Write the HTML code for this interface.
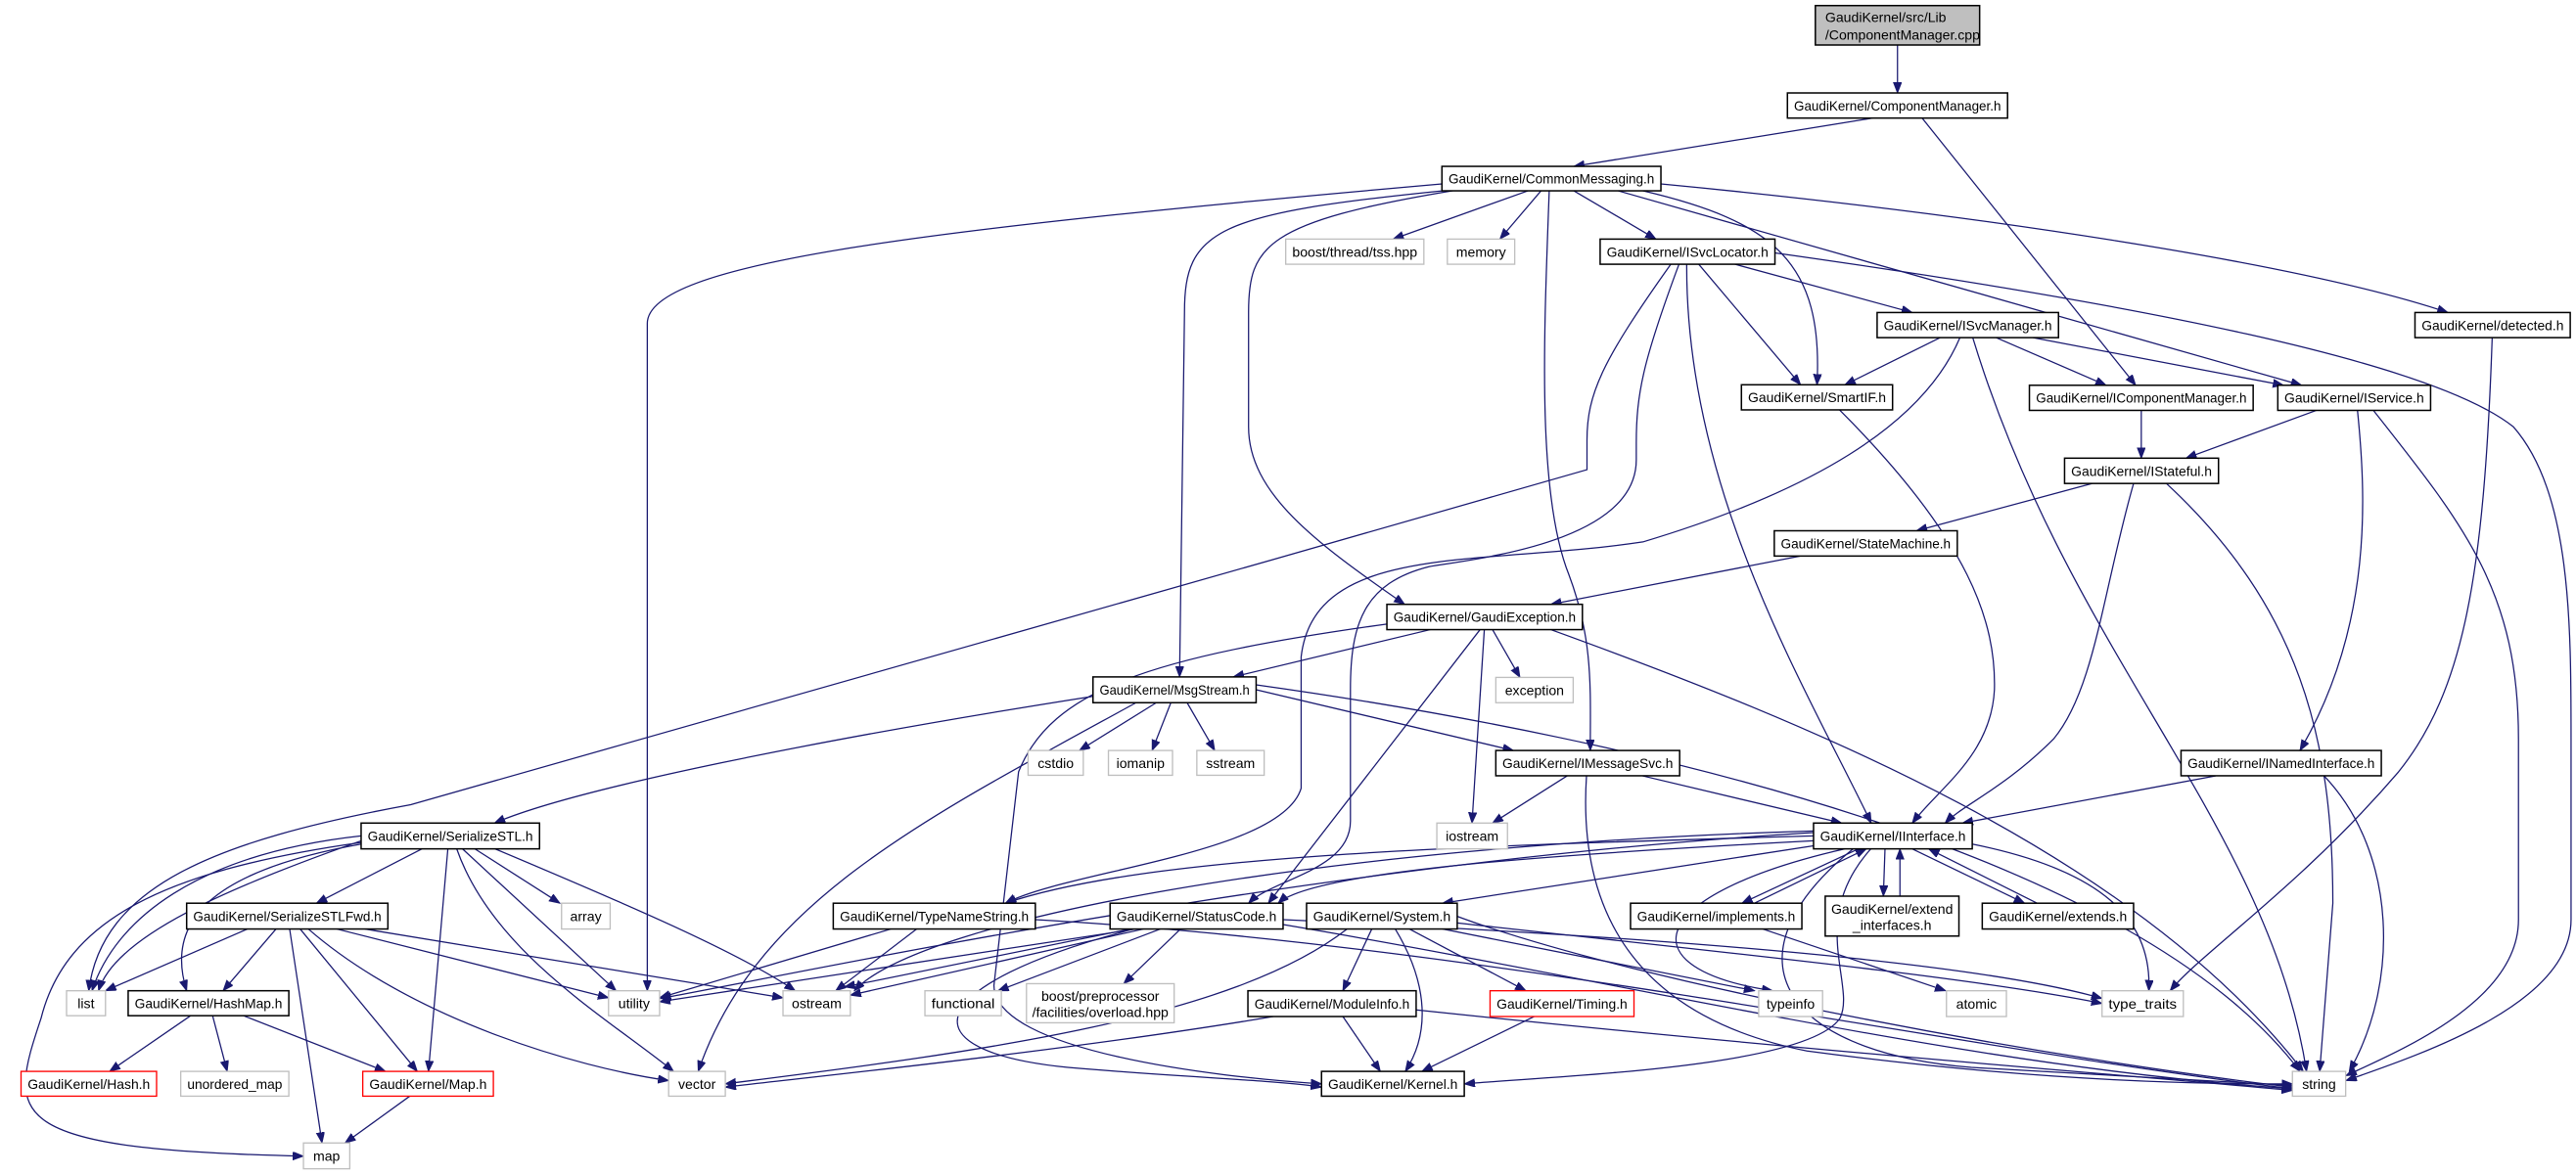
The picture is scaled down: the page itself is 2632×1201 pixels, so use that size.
<!DOCTYPE html>
<html><head><meta charset="utf-8">
<style>
html,body{margin:0;padding:0;background:#fff;}
svg{display:block;}
text{font-family:"Liberation Sans",sans-serif;font-size:8.4px;fill:#000;}
</style></head>
<body>
<svg id="g" width="2632" height="1201" viewBox="0 0 1568 715.5" xmlns="http://www.w3.org/2000/svg">
<defs>
<marker id="ah" markerUnits="userSpaceOnUse" markerWidth="8" markerHeight="6" refX="6.5" refY="2.5" orient="auto">
<path d="M0,0 L6.5,2.5 L0,5 z" fill="#191970" stroke="#191970" stroke-width="0.5"/>
</marker>
</defs>
<g id="edges" fill="none" stroke="#191970" stroke-width="0.75"></g>
<g id="nodes">
<rect x="1105" y="3.4" width="100" height="24" fill="#bfbfbf" stroke="#000" stroke-width="0.9"/>
<text x="1111" y="13.5">GaudiKernel/src/Lib</text>
<text x="1111" y="24">/ComponentManager.cpp</text>
</g>
</svg>
<script>
var N={
CMh:[1088,56.6,1222,71.9,'b','GaudiKernel/ComponentManager.h'],
CM:[877.7,101.3,1011,116.2,'b','GaudiKernel/CommonMessaging.h'],
tss:[782.6,145.6,866.7,160.9,'g','boost/thread/tss.hpp'],
memory:[881,145.6,922,160.9,'g','memory'],
ISL:[974,145.6,1080.4,160.9,'b','GaudiKernel/ISvcLocator.h'],
ISM:[1142.6,190.3,1253,205.6,'b','GaudiKernel/ISvcManager.h'],
det:[1470,190.3,1564.5,205.6,'b','GaudiKernel/detected.h'],
SIF:[1060,234.3,1152,249.6,'b','GaudiKernel/SmartIF.h'],
ICM:[1235.3,234.6,1371.5,249.9,'b','GaudiKernel/IComponentManager.h'],
ISv:[1386.5,234.6,1479.5,249.9,'b','GaudiKernel/IService.h'],
ISt:[1256.7,279,1350.4,294.4,'b','GaudiKernel/IStateful.h'],
SM:[1080,323.2,1191.4,338.6,'b','GaudiKernel/StateMachine.h'],
GE:[844.2,368,963.2,383.4,'b','GaudiKernel/GaudiException.h'],
MS:[665.3,412.2,764.6,427.9,'b','GaudiKernel/MsgStream.h'],
exc:[910.5,412.5,957.6,427.9,'g','exception'],
IMS:[910.5,457,1022.4,472.4,'b','GaudiKernel/IMessageSvc.h'],
cstdio:[625.8,457,659.4,472.1,'g','cstdio'],
iomanip:[674.7,457,713.7,472.1,'g','iomanip'],
sstream:[728.5,457,769.5,472.1,'g','sstream'],
INI:[1327.6,457,1449.5,472.4,'b','GaudiKernel/INamedInterface.h'],
iostream:[874.6,501.2,917.6,516.9,'g','iostream'],
II:[1103.9,501.2,1200.5,516.9,'b','GaudiKernel/IInterface.h'],
SS:[219.8,501.2,328.4,516.9,'b','GaudiKernel/SerializeSTL.h'],
SSF:[113.6,550,236.1,565.7,'b','GaudiKernel/SerializeSTLFwd.h'],
array:[341.8,550,371.4,565.7,'g','array'],
TNS:[507.2,550,630.2,565.7,'b','GaudiKernel/TypeNameString.h'],
SC:[675.7,550,781,565.7,'b','GaudiKernel/StatusCode.h'],
Sys:[795.3,550,887,565.7,'b','GaudiKernel/System.h'],
impl:[992.5,550,1096.8,565.7,'b','GaudiKernel/implements.h'],
extif:[1111,545.7,1192.4,570,'b','GaudiKernel/extend|_interfaces.h'],
extends:[1206.6,550,1298.7,565.7,'b','GaudiKernel/extends.h'],
list:[40.5,603.3,64.2,618.5,'g','list'],
HM:[78,603.3,175.8,618.5,'b','GaudiKernel/HashMap.h'],
utility:[370.4,603.3,401.5,618.5,'g','utility'],
ostream:[476.6,603.3,517.6,618.5,'g','ostream'],
functional:[563,603.3,609.5,618.5,'g','functional'],
bpp:[624.8,599,714.7,622.8,'g','boost/preprocessor|/facilities/overload.hpp'],
MI:[759.6,603.3,862,619,'b','GaudiKernel/ModuleInfo.h'],
Timing:[907,603.3,994.6,619,'r','GaudiKernel/Timing.h'],
typeinfo:[1070.5,603.3,1109.4,619,'g','typeinfo'],
atomic:[1184.8,603.3,1221.3,619,'g','atomic'],
tt:[1279.5,603.3,1329,619,'g','type_traits'],
Hash:[12.8,652.4,95.3,667.5,'r','GaudiKernel/Hash.h'],
umap:[110,652.4,175.8,667.5,'g','unordered_map'],
Map:[220.8,652.4,300.3,667.5,'r','GaudiKernel/Map.h'],
vector:[407,652.4,441.5,667.5,'g','vector'],
Kernel:[804.4,652.4,891.3,667.5,'b','GaudiKernel/Kernel.h'],
string:[1395.4,652.4,1427.8,667.5,'g','string'],
map:[184.7,696,212.9,711.7,'g','map']
};
var S='http://www.w3.org/2000/svg';
var ng=document.getElementById('nodes'),eg=document.getElementById('edges');
function el(n,a,p){var e=document.createElementNS(S,n);for(var k in a)e.setAttribute(k,a[k]);p.appendChild(e);return e;}
for(var k in N){var n=N[k],w=n[2]-n[0],h=n[3]-n[1];
 var col=n[4]=='b'?'#000':(n[4]=='r'?'#ff0000':'#bfbfbf');
 el('rect',{x:n[0],y:n[1],width:w,height:h,fill:'#fff',stroke:col,'stroke-width':n[4]=='b'?0.9:0.8},ng);
 var lines=n[5].split('|');
 for(var i=0;i<lines.length;i++){
  var ty=lines.length==1?n[1]+h/2+3:n[1]+h/2-1.5+i*10;
  var t=el('text',{x:n[0]+w/2,y:ty,'text-anchor':'middle'},ng);
  t.textContent=lines[i];
  if(lines[i].length>9&&lines.length==1){t.setAttribute('textLength',w-8);t.setAttribute('lengthAdjust','spacingAndGlyphs');}
 }
}
var P=[
'M1155,27.4 L1155,56.6',
'M1140,71.9 L958,101.3',
'M1170,71.9 L1300,234.6',
'M877.7,112 C560,140 394,160 394,197 L394,603.3',
'M880,116 C740,130 721,140 721,190 L718,412.2',
'M885,116 C770,135 760,150 760,190 L760,260 C760,300 800,330 855,368',
'M930,116.2 L848,145.6',
'M938,116.2 L913,145.6',
'M943,116.2 C940,200 935,300 955,350 C970,390 968,420 968,457',
'M958,116.2 L1008,145.6',
'M1000,116.2 C1080,135 1110,160 1106,234.3',
'M985,116.2 L1401,234.6',
'M1011,112 C1200,130 1400,160 1490,190.3',
'M1056,160.9 L1164,190.3',
'M1034,160.9 L1096,234.3',
'M1026.7,160.9 C1026,300 1100,420 1139,501.2',
'M1080.4,154 C1300,185 1480,220 1530,260 C1565,300 1565,380 1565,450 L1565,560 C1565,610 1480,640 1428,658',
'M1017,160.9 C975,220 966,240 966,268 L966,286 L774,341 L250,490 C130,512 62,540 54,603.3',
'M1022,160.9 C1000,220 996,240 996,270 L996,280 C996,330 900,340 870,345 C830,355 822,380 822,420 L822,500 C822,530 775,535 760,550',
'M1193,205.6 C1170,260 1100,300 1000,330 C900,345 800,330 792,400 L792,480 C780,520 650,530 612,550',
'M1181,205.6 L1123,234.3',
'M1215,205.6 L1282,234.6',
'M1237.5,205.6 L1390,234.6',
'M1200.8,205.6 C1260,400 1380,500 1404,652.4',
'M1119.7,249.6 C1200,330 1215,380 1214,420 C1212,460 1180,480 1164,501.2',
'M1303.4,249.9 L1303.4,279',
'M1410,249.9 L1330.6,279',
'M1435,249.9 C1440,300 1445,380 1400,457',
'M1444.7,249.9 C1500,320 1533,360 1533,450 L1533,560 C1533,610 1460,640 1428,655',
'M1517,205.6 C1512,350 1500,420 1460,470 C1400,540 1340,580 1321,603.3',
'M1273.6,294.4 L1166.6,323.2',
'M1298.7,294.4 C1280,360 1275,420 1250,450 C1220,480 1195,490 1184,501.2',
'M1318.7,294.4 C1400,370 1420,450 1420,550 L1412,652.4',
'M1095.8,338.6 L944,368',
'M870.6,383.4 L750.7,412.2',
'M908.5,383.4 L925.2,412.5',
'M903.5,383.4 L896,501.2',
'M900.9,383.4 L772,550',
'M944,383.4 C1100,440 1300,520 1402,652.4',
'M844.2,380 C700,400 640,420 620,470 L605,600 C605,640 740,656 804.4,660',
'M665.3,424 C500,450 350,480 301,501.2',
'M703.8,427.9 L657,457',
'M712.7,427.9 L701.3,457',
'M722.6,427.9 L739.4,457',
'M764.6,420 L921.2,457',
'M764.6,417 C1000,450 1300,520 1400,652.4',
'M691.5,427.9 C560,500 460,550 425,652.4',
'M954,472.4 L908.5,501.2',
'M999.6,472.4 L1121,501.2',
'M965.7,472.4 C960,560 1000,620 1100,640 C1250,660 1350,660 1395.4,660',
'M1348.8,472.4 L1194.5,501.2',
'M1414.6,472.4 C1460,520 1460,600 1430,652.4',
'M1103.9,509 C900,515 700,520 612,550',
'M1103.9,512 C950,520 800,530 778,550',
'M1103.9,515 L878,550',
'M1131.2,516.9 L1060.3,550',
'M1147.4,516.9 L1146.4,545.7',
'M1164,516.9 L1232.4,550',
'M1200.5,514 C1280,530 1310,560 1308,603.3',
'M1123,516.9 C1000,545 990,590 1079,603.3',
'M1128,516.9 C1050,580 1080,640 1200,650 L1395.4,661',
'M1138.8,516.9 C1100,560 1130,600 1120,620 C1100,650 950,655 891.3,660',
'M1103.9,506 C800,515 560,560 520,603.3',
'M1103.9,507 C800,525 500,590 402,608',
'M1067.9,550 L1136,516.9',
'M1073,565.7 L1184.3,603.3',
'M1156.5,545.7 L1156.5,516.9',
'M1240,550 L1174,516.9',
'M256.8,516.9 L192.6,550',
'M219.8,514 C130,530 100,560 113.6,603.3',
'M219.8,509 C120,520 70,560 56,603.3',
'M219.8,512 C140,540 70,570 60,603.3',
'M219.8,513 C100,530 40,560 25,620 C5,680 0,700 184.7,704',
'M272.6,516.9 L260.8,652.4',
'M281.5,516.9 L375,603.3',
'M278,516.9 C300,580 370,620 410,652.4',
'M289,516.9 L340.8,550',
'M301.3,516.9 C380,550 450,580 484,603.3',
'M150.6,565.7 L64.2,603.3',
'M168,565.7 L135.8,603.3',
'M182.7,565.7 L254,652.4',
'M176.3,565.7 L196,696',
'M205,565.7 L370.4,607.6',
'M222,565.7 L476.6,607.6',
'M187.7,565.7 C250,620 350,650 407,658',
'M116,618.5 L66.7,652.4',
'M129.4,618.5 L138.3,652.4',
'M148.2,618.5 L234.6,652.4',
'M249.4,667.5 L210,696',
'M542.3,565.7 L401.5,607.6',
'M558,565.7 L508.7,603.3',
'M630.2,560 C900,575 1200,640 1395.4,663',
'M691.5,565.7 L401.5,610',
'M696,565.7 L517.6,606',
'M688,565.7 L514,601',
'M706.3,565.7 L607.5,603.3',
'M718.6,565.7 L684,599',
'M690,565.7 C560,600 550,640 650,650 C720,656 780,658 804.4,662',
'M781,560 C1000,570 1200,585 1279.5,608',
'M781,563 C1000,600 1200,650 1395.4,663',
'M835,565.7 L817.4,603.3',
'M849.3,565.7 C870,600 870,630 855.4,652.4',
'M857.9,565.7 L928.8,603.3',
'M878,565.7 L1068,603.3',
'M887,558 C1000,600 1250,645 1395.4,662',
'M887,562 C1050,580 1200,595 1279.5,611',
'M820,565.7 C750,620 600,640 441.5,660',
'M817.4,619 L840.2,652.4',
'M775,619 C650,640 500,655 441.5,662',
'M862,615 C1100,640 1300,655 1395.4,664',
'M933.8,619 L865.5,652.4'
];
P.forEach(function(d){el('path',{d:d,'marker-end':'url(#ah)'},eg);});
</script>
</body></html>
